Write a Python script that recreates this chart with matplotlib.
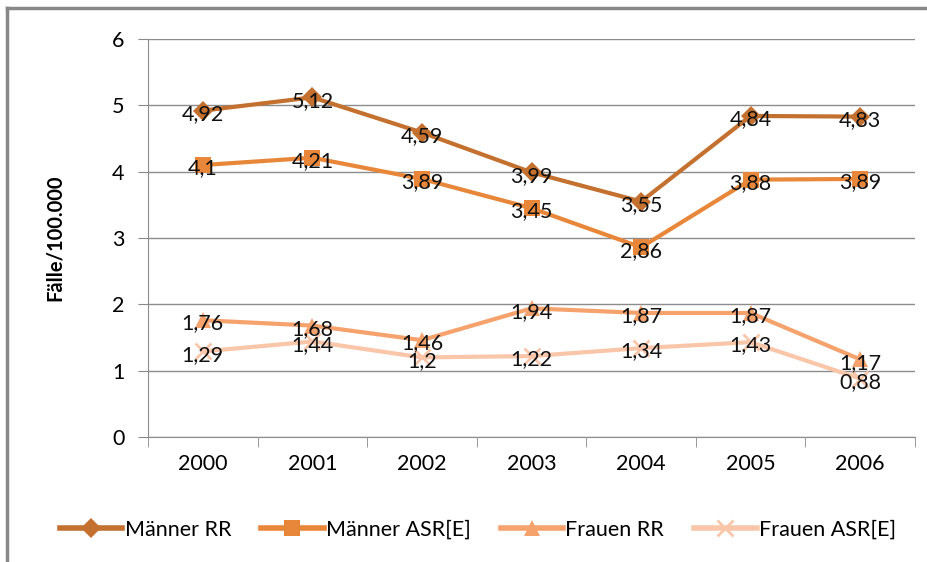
import matplotlib.pyplot as plt
from matplotlib.lines import Line2D

years = ["2000", "2001", "2002", "2003", "2004", "2005", "2006"]
maenner_rr = [4.92, 5.12, 4.59, 3.99, 3.55, 4.84, 4.83]
maenner_asr = [4.1, 4.21, 3.89, 3.45, 2.86, 3.88, 3.89]
frauen_rr = [1.76, 1.68, 1.46, 1.94, 1.87, 1.87, 1.17]
frauen_asr = [1.29, 1.44, 1.2, 1.22, 1.34, 1.43, 0.88]

series = [
    ("Männer RR", maenner_rr, "#C4702F", "D", 10),
    ("Männer ASR[E]", maenner_asr, "#E8873A", "s", 11),
    ("Frauen RR", frauen_rr, "#F5A26D", "^", 11),
    ("Frauen ASR[E]", frauen_asr, "#F9C6AA", "x", 11),
]

plt.rcParams['font.family'] = ['Lato', 'DejaVu Sans']
fs = 15.5

fig = plt.figure(figsize=(9.28, 5.62), dpi=100)
ax = fig.add_axes([0.1595, 0.2224, 0.8265, 0.7082])

x = list(range(len(years)))
for name, vals, col, mk, ms in series:
    ax.plot(x, vals, color=col, lw=3, marker=mk, ms=ms, mew=2 if mk == "x" else 0,
            mec=col, label=name)

for name, vals, col, mk, ms in series:
    for i, v in enumerate(vals):
        ax.text(i, v - 0.05, ("%g" % v).replace(".", ","), ha="center", va="center",
                fontsize=fs, color="#111111")

ax.set_xlim(-0.5, len(years) - 0.5)
ax.set_ylim(0, 6)
ax.set_yticks(range(0, 7))
ax.set_xticks(x)
ax.set_xticklabels(years)
ax.set_xticks([i - 0.5 for i in range(len(years) + 1)], minor=True)
ax.tick_params(axis="x", which="major", length=0, pad=12, labelsize=fs)
ax.tick_params(axis="x", which="minor", length=7, color="#888888", direction="out")
ax.tick_params(axis="y", length=7, color="#888888", labelsize=fs, pad=10)
ax.grid(axis="y", color="#8c8c8c", lw=1)
ax.set_axisbelow(True)
for s in ["top", "right"]:
    ax.spines[s].set_visible(False)
ax.spines["left"].set_color("#8c8c8c")
ax.spines["bottom"].set_color("#8c8c8c")
ax.set_ylabel("Fälle/100.000", fontsize=14.5, fontweight="bold", labelpad=34)

handles = [Line2D([0], [0], color=c, lw=4, marker=m, ms=ms, mew=2 if m == "x" else 0, mec=c)
           for _, _, c, m, ms in series]
fig.legend(handles, [s[0] for s in series], loc="center", bbox_to_anchor=(0.515, 0.057),
           ncol=4, frameon=False, fontsize=fs, handlelength=2.9, handletextpad=0.1,
           columnspacing=1.4)

# outer frame
fig.add_artist(Line2D([7 / 928, 7 / 928], [0, 1 - 8 / 562], color="#888888", lw=2.5,
                      transform=fig.transFigure))
fig.add_artist(Line2D([7 / 928, 1], [1 - 8 / 562, 1 - 8 / 562], color="#888888", lw=2.5,
                      transform=fig.transFigure))

fig.savefig("out.png", dpi=100)
